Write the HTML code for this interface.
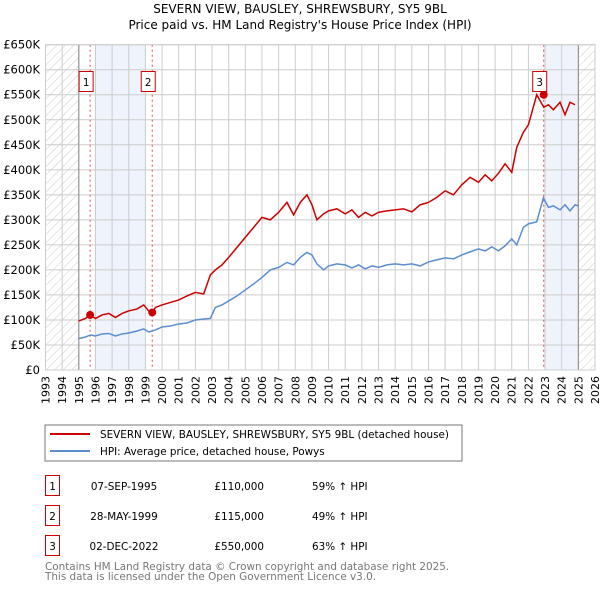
<!DOCTYPE html>
<html><head><meta charset="utf-8"><style>
body{margin:0;background:#fff;width:600px;height:590px;overflow:hidden;font-family:"DejaVu Sans","Liberation Sans",sans-serif;}
svg text{font-family:"DejaVu Sans","Liberation Sans",sans-serif;}
</style></head><body>
<svg id="c" width="600" height="590" xmlns="http://www.w3.org/2000/svg">
<defs><pattern id="hatch" width="6" height="6" patternUnits="userSpaceOnUse" patternTransform="rotate(45)"><line x1="0" y1="0" x2="0" y2="6" stroke="#ccc" stroke-width="1"/></pattern></defs>
<text x="300" y="13" text-anchor="middle" font-size="12">SEVERN VIEW, BAUSLEY, SHREWSBURY, SY5 9BL</text>
<text x="300" y="29" text-anchor="middle" font-size="12">Price paid vs. HM Land Registry's House Price Index (HPI)</text>
<g id="plot"></g>
<rect x="45" y="425" width="417" height="36" fill="#fff" stroke="#777"/>
<line x1="50" y1="434" x2="90" y2="434" stroke="#cc0000" stroke-width="2"/>
<text x="100" y="438" font-size="10.4">SEVERN VIEW, BAUSLEY, SHREWSBURY, SY5 9BL (detached house)</text>
<line x1="50" y1="451" x2="90" y2="451" stroke="#5b8dd0" stroke-width="2"/>
<text x="100" y="455" font-size="10.4">HPI: Average price, detached house, Powys</text>
<g font-size="10.4">
<rect x="45.5" y="475.5" width="14" height="20" fill="none" stroke="#cc0000"/><text x="52.5" y="490" text-anchor="middle">1</text>
<text x="124" y="490" text-anchor="middle">07-SEP-1995</text><text x="264" y="490" text-anchor="end">£110,000</text><text x="312" y="490">59% ↑ HPI</text>
<rect x="45.5" y="505.5" width="14" height="20" fill="none" stroke="#cc0000"/><text x="52.5" y="520" text-anchor="middle">2</text>
<text x="124" y="520" text-anchor="middle">28-MAY-1999</text><text x="264" y="520" text-anchor="end">£115,000</text><text x="312" y="520">49% ↑ HPI</text>
<rect x="45.5" y="535.5" width="14" height="20" fill="none" stroke="#cc0000"/><text x="52.5" y="550" text-anchor="middle">3</text>
<text x="124" y="550" text-anchor="middle">02-DEC-2022</text><text x="264" y="550" text-anchor="end">£550,000</text><text x="312" y="550">63% ↑ HPI</text>
</g>
<text x="45" y="570" font-size="10.4" fill="#777">Contains HM Land Registry data © Crown copyright and database right 2025.</text>
<text x="45" y="580" font-size="10.4" fill="#777">This data is licensed under the Open Government Licence v3.0.</text>
</svg>
<script>
const yTicks=[0,50,100,150,200,250,300,350,400,450,500,550,600,650];
const yLabels=["£0","£50K","£100K","£150K","£200K","£250K","£300K","£350K","£400K","£450K","£500K","£550K","£600K","£650K"];
const years=[1993,1994,1995,1996,1997,1998,1999,2000,2001,2002,2003,2004,2005,2006,2007,2008,2009,2010,2011,2012,2013,2014,2015,2016,2017,2018,2019,2020,2021,2022,2023,2024,2025,2026];
const hpiT=[1995.0,1995.4,1995.7,1996.0,1996.4,1996.8,1997.2,1997.6,1998.0,1998.5,1998.9,1999.2,1999.6,2000.0,2000.5,2001.0,2001.5,2002.0,2002.5,2002.9,2003.2,2003.6,2004.0,2004.5,2005.0,2005.5,2006.0,2006.5,2007.0,2007.5,2007.9,2008.3,2008.7,2009.0,2009.3,2009.7,2010.0,2010.5,2011.0,2011.4,2011.8,2012.2,2012.6,2013.0,2013.5,2014.0,2014.5,2015.0,2015.5,2016.0,2016.5,2017.0,2017.5,2018.0,2018.5,2019.0,2019.4,2019.8,2020.2,2020.6,2021.0,2021.3,2021.7,2022.0,2022.5,2022.9,2023.2,2023.5,2023.9,2024.2,2024.5,2024.8,2025.0];
const hpiV=[63,66,70,68,72,73,68,72,74,78,82,76,80,86,88,92,94,100,102,103,125,130,138,148,160,172,185,200,205,215,210,225,235,230,212,200,208,212,210,204,210,202,208,205,210,212,210,212,208,216,220,224,222,230,236,242,238,246,238,248,262,250,285,292,296,344,325,328,320,330,318,330,328];
const priceT=[1995.0,1995.4,1995.68,1996.0,1996.4,1996.8,1997.2,1997.6,1998.0,1998.5,1998.9,1999.2,1999.41,1999.6,2000.0,2000.5,2001.0,2001.5,2002.0,2002.5,2002.9,2003.2,2003.6,2004.0,2004.5,2005.0,2005.5,2006.0,2006.5,2007.0,2007.5,2007.9,2008.3,2008.7,2009.0,2009.3,2009.7,2010.0,2010.5,2011.0,2011.4,2011.8,2012.2,2012.6,2013.0,2013.5,2014.0,2014.5,2015.0,2015.5,2016.0,2016.5,2017.0,2017.5,2018.0,2018.5,2019.0,2019.4,2019.8,2020.2,2020.6,2021.0,2021.3,2021.7,2022.0,2022.5,2022.92,2023.2,2023.5,2023.9,2024.2,2024.5,2024.8,2025.0];
const priceV=[98,103,110,103,110,113,105,113,118,122,130,118,115,125,130,135,140,148,155,152,190,200,210,225,245,265,285,305,300,315,335,310,335,350,330,300,312,318,322,312,320,305,315,308,315,318,320,322,316,330,335,345,358,350,370,385,375,390,378,393,412,395,445,475,490,550,525,530,520,535,510,535,530];
const sales=[{t:1995.68,v:110,n:"1"},{t:1999.41,v:115,n:"2"},{t:2022.92,v:550,n:"3"}];
const NS="http://www.w3.org/2000/svg";
const X0=45.5,X1=595,Y0=370,Y1=44.7;
const xs=t=>X0+(t-1993)/(2026-1993)*(X1-X0);
const ys=v=>Y0-(v/650)*(Y0-Y1);
const g=document.getElementById('plot');
function mk(tag,a){const e=document.createElementNS(NS,tag);for(const k in a)e.setAttribute(k,a[k]);g.appendChild(e);return e;}
let e;
e=mk('rect',{x:X0,y:Y1,width:X1-X0,height:Y0-Y1,fill:'#fff'});


e=mk('rect',{x:xs(1996),y:Y1,width:xs(1999)-xs(1996),height:Y0-Y1,fill:'#eef3fc'});


e=mk('rect',{x:xs(2022.92),y:Y1,width:xs(2025)-xs(2022.92),height:Y0-Y1,fill:'#eef3fc'});


years.forEach(y=>{const l=mk('line',{x1:xs(y),x2:xs(y),y1:Y1,y2:Y0,stroke:'#ccc','stroke-width':1});


const t=mk('text',{x:0,y:0,'font-size':11,'text-anchor':'end',transform:`translate(${xs(y)+4},${Y0+6}) rotate(-90)`});t.textContent=y;

});
yTicks.forEach((v,i)=>{const l=mk('line',{x1:X0,x2:X1,y1:ys(v),y2:ys(v),stroke:'#ccc','stroke-width':1});


const t=mk('text',{x:40,y:ys(v)+4,'font-size':11.5,'text-anchor':'end'});t.textContent=yLabels[i];

});
e=mk('rect',{x:X0,y:Y1,width:xs(1995)-X0,height:Y0-Y1,fill:'url(#hatch)'});


e=mk('rect',{x:xs(2025),y:Y1,width:X1-xs(2025),height:Y0-Y1,fill:'url(#hatch)'});


e=mk('line',{x1:xs(1995),x2:xs(1995),y1:Y1,y2:Y0,stroke:'#888'});


e=mk('line',{x1:xs(2025),x2:xs(2025),y1:Y1,y2:Y0,stroke:'#888'});


sales.forEach(s=>{const l=mk('line',{x1:xs(s.t),x2:xs(s.t),y1:Y1,y2:Y0,stroke:'#e05050','stroke-dasharray':'2,3'});

});
e=mk('polyline',{points:hpiT.map((t,i)=>xs(t)+','+ys(hpiV[i])).join(' '),fill:'none',stroke:'#5b8dd0','stroke-width':1.5});


e=mk('polyline',{points:priceT.map((t,i)=>xs(t)+','+ys(priceV[i])).join(' '),fill:'none',stroke:'#cc0000','stroke-width':1.5});


sales.forEach(s=>{const c=mk('circle',{cx:xs(s.t),cy:ys(s.v),r:4,fill:'#cc0000'});


const bx=xs(s.t)-11;
const r=mk('rect',{x:bx,y:71.5,width:14,height:20,fill:'#fff',stroke:'#cc0000'});


const t=mk('text',{x:bx+7,y:86,'font-size':10.4,'text-anchor':'middle'});t.textContent=s.n;

});
e=mk('rect',{x:X0,y:Y1,width:X1-X0,height:Y0-Y1,fill:'none',stroke:'#ccc'});


</script>
</body></html>
